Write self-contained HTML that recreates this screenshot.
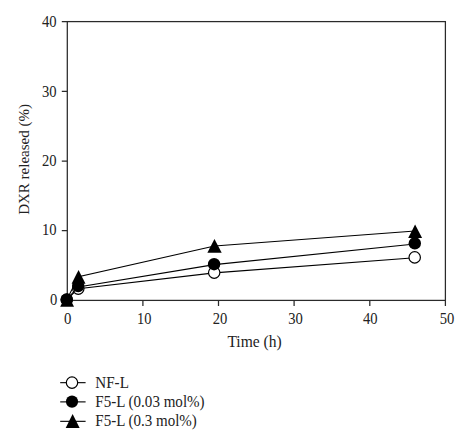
<!DOCTYPE html>
<html><head><meta charset="utf-8">
<style>
html,body{margin:0;padding:0;background:#fff;width:473px;height:442px;overflow:hidden}
svg{display:block}
svg{font-family:"Liberation Serif",serif;font-size:16.1px}
text{fill:#222}
</style></head>
<body>
<svg width="473" height="442" viewBox="0 0 473 442">
<g stroke="#2a2a2a" stroke-width="1.25" fill="none">
<rect x="67.3" y="21.6" width="378.1" height="278.8"/>
<path d="M61.8 21.6H67.3M61.8 91.3H67.3M61.8 161H67.3M61.8 230.7H67.3M61.8 300.4H67.3"/>
<path d="M67.3 300.4V305.9M142.9 300.4V305.9M218.5 300.4V305.9M294.1 300.4V305.9M369.8 300.4V305.9M445.4 300.4V305.9"/>
</g>
<g text-anchor="end">
<text x="56.6" y="26.8" textLength="14.6" lengthAdjust="spacingAndGlyphs">40</text>
<text x="56.6" y="96.6" textLength="14.6" lengthAdjust="spacingAndGlyphs">30</text>
<text x="56.6" y="165.9" textLength="14.6" lengthAdjust="spacingAndGlyphs">20</text>
<text x="56.6" y="235.1" textLength="14.6" lengthAdjust="spacingAndGlyphs">10</text>
<text x="57.3" y="304.8" textLength="7.3" lengthAdjust="spacingAndGlyphs">0</text>
</g>
<g text-anchor="middle">
<text x="67.6" y="323.9" textLength="7.4" lengthAdjust="spacingAndGlyphs">0</text>
<text x="144.3" y="323.9" textLength="14.4" lengthAdjust="spacingAndGlyphs">10</text>
<text x="220" y="323.9" textLength="14.6" lengthAdjust="spacingAndGlyphs">20</text>
<text x="295.6" y="323.9" textLength="14.6" lengthAdjust="spacingAndGlyphs">30</text>
<text x="370.3" y="323.9" textLength="14.6" lengthAdjust="spacingAndGlyphs">40</text>
<text x="447.1" y="323.9" textLength="14.6" lengthAdjust="spacingAndGlyphs">50</text>
</g>
<text x="227.4" y="347" style="font-size:16.4px" textLength="54.4" lengthAdjust="spacingAndGlyphs">Time (h)</text>
<text transform="translate(29.35,214.8) rotate(-90)" style="font-size:15.1px" textLength="110.8" lengthAdjust="spacingAndGlyphs">DXR released (%)</text>

<!-- NF-L -->
<g>
<polyline points="66.7,299.6 78.3,288.7 214.3,272.9 414.9,257.8" fill="none" stroke="#000" stroke-width="1.1"/>
<g fill="#fff" stroke="#000" stroke-width="1.2">
<circle cx="66.7" cy="299.6" r="5.7"/>
<circle cx="78.3" cy="288.6" r="5.7"/>
<circle cx="214.2" cy="272.6" r="5.7"/>
<circle cx="414.7" cy="257.4" r="5.7"/>
</g>
</g>
<!-- F5-L 0.03 -->
<g>
<polyline points="66.6,299.4 78.3,287 214.3,264.6 414.9,244" fill="none" stroke="#000" stroke-width="1.1"/>
<g fill="#000">
<circle cx="66.8" cy="299.7" r="6.2"/>
<circle cx="78.2" cy="286.1" r="6.2"/>
<circle cx="214.1" cy="264.2" r="6.2"/>
<circle cx="414.8" cy="243.3" r="6.2"/>
</g>
</g>
<!-- F5-L 0.3 -->
<g>
<polyline points="66.7,299.7 78.5,276.8 214.5,246 415.1,231" fill="none" stroke="#000" stroke-width="1.1"/>
<g fill="#000">
<path d="M67.1 292.9L74 306.7H60.2Z"/>
<path d="M78.55 270.1L85.5 283.8H71.6Z"/>
<path d="M214.45 238.9L221.7 252.7H207.4Z"/>
<path d="M415.1 224.4L422.1 238.1H408.2Z"/>
</g>
</g>

<!-- legend -->
<g stroke="#1e1e1e" stroke-width="1.15">
<path d="M60.2 382.6H85.6M60.2 401.9H85.6M60.2 421.3H85.6"/>
</g>
<circle cx="72" cy="382.6" r="5.7" fill="#fff" stroke="#000" stroke-width="1.2"/>
<circle cx="72" cy="401.6" r="6.1" fill="#000"/>
<path d="M72.6 414L79.6 427.9H65.7Z" fill="#000"/>
<text x="95.3" y="387.5" style="font-size:15.7px" textLength="33.6" lengthAdjust="spacingAndGlyphs">NF-L</text>
<text x="95.3" y="407" style="font-size:15.7px" textLength="109.3" lengthAdjust="spacingAndGlyphs">F5-L (0.03 mol%)</text>
<text x="95.3" y="426.4" style="font-size:15.7px" textLength="101.5" lengthAdjust="spacingAndGlyphs">F5-L (0.3 mol%)</text>
</svg>
</body></html>
